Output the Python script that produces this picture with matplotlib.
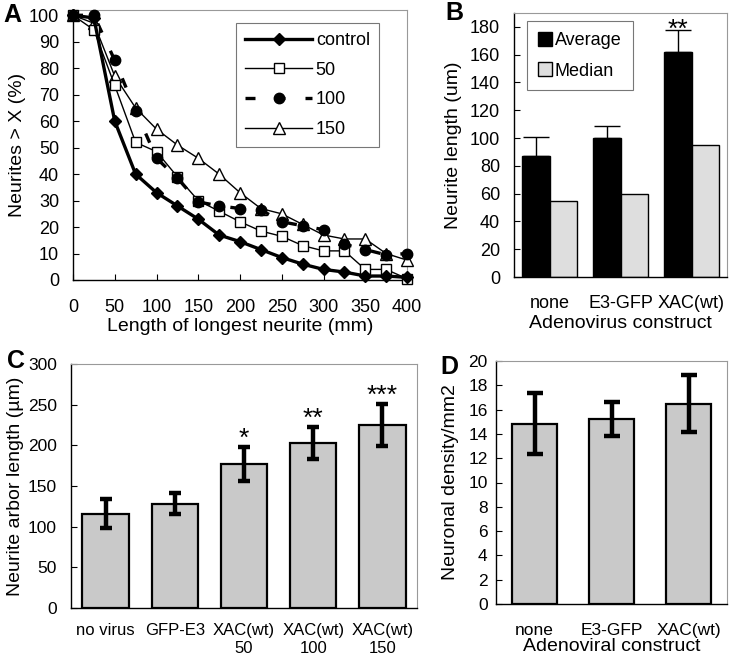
import matplotlib
matplotlib.use("Agg")
import matplotlib.pyplot as plt
from matplotlib.lines import Line2D
from matplotlib.patches import Patch
import numpy as np

plt.rcParams['font.family'] = ['Liberation Sans', 'DejaVu Sans']

# ---------- Panel A data ----------
lengths = [0, 25, 50, 75, 100, 125, 150, 175, 200, 225, 250, 275, 300, 325, 350, 375, 400]
control = [100, 99, 60, 40, 33, 28, 23, 17, 14.5, 11.5, 8.5, 6, 4, 3, 1.5, 1.5, 1]
xac50 = [100, 94.5, 73.5, 52, 48.5, 39, 30, 26, 22, 18.5, 16.5, 13, 11, 11, 4, 4, 0.5]
xac100 = [100, 100, 83, 64, 46, 38.5, 29.5, 28, 27, 26.5, 22, 20.5, 19, 13.5, 11.5, 9.5, 10]
xac150 = [100, 97, 77, 65, 57, 51, 46, 40, 33, 27, 25, 21, 17, 15.5, 15.5, 10, 7.5]
a_xticks = [0, 50, 100, 150, 200, 250, 300, 350, 400]
a_yticks = [0, 10, 20, 30, 40, 50, 60, 70, 80, 90, 100]

# ---------- Panel B data ----------
b_cats = ["none", "E3-GFP", "XAC(wt)"]
b_avg = [87, 100, 162]
b_avg_err = [14, 9, 16]
b_median = [55, 60, 95]
b_yticks = [0, 20, 40, 60, 80, 100, 120, 140, 160, 180]

# ---------- Panel C data ----------
c_cats = ["no virus", "GFP-E3", "XAC(wt)\n50", "XAC(wt)\n100", "XAC(wt)\n150"]
c_vals = [116, 128, 177, 203, 225]
c_err = [18, 13, 20.5, 19.5, 25.5]
c_stars = ["", "", "*", "**", "***"]
c_yticks = [0, 50, 100, 150, 200, 250, 300]

# ---------- Panel D data ----------
d_cats = ["none", "E3-GFP", "XAC(wt)"]
d_vals = [14.85, 15.2, 16.5]
d_err = [2.5, 1.4, 2.35]
d_yticks = [0, 2, 4, 6, 8, 10, 12, 14, 16, 18, 20]

W, H = 732, 657
fig = plt.figure(figsize=(W / 100, H / 100), dpi=100)


def ax_px(l, t, r, b):
    return fig.add_axes([l / W, 1 - b / H, (r - l) / W, (b - t) / H])


def style(ax, xticks=True):
    for s in ['top', 'right']:
        ax.spines[s].set_color('#999999')
        ax.spines[s].set_linewidth(0.8)
    for s in ['left', 'bottom']:
        ax.spines[s].set_color('black')
        ax.spines[s].set_linewidth(1.0)
    ax.tick_params(direction='in', length=4, width=0.8, color='black')
    if not xticks:
        ax.tick_params(axis='x', length=0)


def labels(ax, xl, xl_y, yl, yl_x, xfs=14, yfs=14):
    if xl:
        ax.set_xlabel(xl, fontsize=xfs, va='center')
        ax.xaxis.set_label_coords(0.5, xl_y)
    if yl:
        ax.set_ylabel(yl, fontsize=yfs, va='center')
        ax.yaxis.set_label_coords(yl_x, 0.5)


bar_grey = '#c9c9c9'

# ---------- A ----------
axA = ax_px(73, 10, 407, 280)
axA.plot(lengths, xac100, color='black', lw=2.4, ls=(0, (3, 6)), zorder=2)
axA.plot(lengths, xac150, color='black', lw=1.0, marker='^', ms=8.5,
         mfc='white', mec='black', mew=1.0, clip_on=False, zorder=3)
axA.plot(lengths, xac50, color='black', lw=1.0, marker='s', ms=7.5,
         mfc='white', mec='black', mew=1.0, clip_on=False, zorder=4)
axA.plot(lengths, xac100, ls='none', marker='o', ms=7.5,
         mfc='black', mec='black', clip_on=False, zorder=5)
axA.plot(lengths, control, color='black', lw=2.4, marker='D', ms=6.5,
         mfc='black', mec='black', clip_on=False, zorder=6)
axA.set_xlim(0, 400)
axA.set_ylim(0, 102)
axA.set_xticks(a_xticks)
axA.set_yticks(a_yticks)
axA.tick_params(labelsize=13)
axA.tick_params(axis='y', pad=10)
axA.tick_params(axis='x', pad=14)
style(axA)
labels(axA, "Length of longest neurite (mm)", -0.172, "Neurites > X (%)", -0.165)
hA = [Line2D([], [], color='black', lw=2.4, marker='D', ms=6.5),
      Line2D([], [], color='black', lw=1.0, marker='s', ms=7.5, mfc='white'),
      Line2D([], [], color='black', lw=2.4, ls=(0, (3, 6)), marker='o', ms=7.5),
      Line2D([], [], color='black', lw=1.0, marker='^', ms=8.5, mfc='white')]
legA = axA.legend(hA, ["control", "50", "100", "150"], loc='upper right',
                  bbox_to_anchor=(0.916, 0.952), fontsize=13, frameon=True,
                  fancybox=False, edgecolor='#555555', handlelength=3.7,
                  handletextpad=0.2, labelspacing=0.7, borderpad=0.5,
                  borderaxespad=0)
legA.get_frame().set_linewidth(0.8)
fig.text(3 / W, 1 - 15 / H, "A", fontsize=18, fontweight='bold', va='center')

# ---------- B ----------
axB = ax_px(514, 13, 727, 277)
xb = np.arange(len(b_cats))
bw = 0.39
axB.bar(xb - bw / 2, b_avg, bw, color='black', edgecolor='black', lw=1.0)
axB.errorbar(xb - bw / 2, b_avg, yerr=[np.zeros(3), b_avg_err], fmt='none',
             ecolor='black', elinewidth=1.0, capsize=9.5, capthick=1.0)
axB.bar(xb + bw / 2, b_median, bw, color='#dedede', edgecolor='black', lw=1.0)
axB.set_xlim(-0.5, 2.5)
axB.set_ylim(0, 190)
axB.set_yticks(b_yticks)
axB.set_xticks(xb)
axB.set_xticklabels(b_cats, fontsize=13)
axB.tick_params(axis='y', labelsize=13, pad=10)
axB.tick_params(axis='x', pad=13)
style(axB, xticks=False)
labels(axB, "Adenovirus construct", -0.178, "Neurite length (um)", -0.286)
axB.annotate("**", (xb[2] - bw / 2, b_avg[2] + b_avg_err[2]), xytext=(0, -5),
             textcoords='offset points', ha='center', va='baseline', fontsize=19)
hB = [Patch(facecolor='black', edgecolor='black'),
      Patch(facecolor='#dedede', edgecolor='black')]
legB = axB.legend(hB, ["Average", "Median"], loc='upper left',
                  bbox_to_anchor=(0.061, 0.970), fontsize=13, frameon=True,
                  fancybox=False, edgecolor='#555555', handlelength=0.8,
                  handleheight=0.8, handletextpad=0.15, labelspacing=0.75,
                  borderpad=0.6, borderaxespad=0)
legB.get_frame().set_linewidth(0.8)
fig.text(445 / W, 1 - 13 / H, "B", fontsize=18, fontweight='bold', va='center')

# ---------- C ----------
axC = ax_px(71, 364, 417, 608)
xc = np.arange(len(c_cats))
axC.bar(xc, c_vals, 0.67, color=bar_grey, edgecolor='black', lw=1.6)
axC.errorbar(xc, c_vals, yerr=c_err, fmt='none', ecolor='black',
             elinewidth=3.2, capsize=4.5, capthick=3.2)
for xi, v, e, s in zip(xc, c_vals, c_err, c_stars):
    if s:
        axC.annotate(s, (xi, v + e), xytext=(0, 1), textcoords='offset points',
                     ha='center', va='baseline', fontsize=19)
axC.set_xlim(-0.5, 4.5)
axC.set_ylim(0, 300)
axC.set_yticks(c_yticks)
axC.set_xticks(xc)
axC.set_xticklabels(c_cats, fontsize=12, linespacing=1.2)
axC.tick_params(axis='y', labelsize=12.5, pad=10)
axC.tick_params(axis='x', pad=11)
style(axC, xticks=False)
labels(axC, None, 0, "Neurite arbor length (\u00b5m)", -0.159)
fig.text(7 / W, 1 - 361 / H, "C", fontsize=18, fontweight='bold', va='center')

# ---------- D ----------
axD = ax_px(496, 361, 727, 604)
xd = np.arange(len(d_cats))
axD.bar(xd, d_vals, 0.59, color=bar_grey, edgecolor='black', lw=1.6)
axD.errorbar(xd, d_vals, yerr=d_err, fmt='none', ecolor='black',
             elinewidth=3.2, capsize=5.5, capthick=3.2)
axD.set_xlim(-0.5, 2.5)
axD.set_ylim(0, 20)
axD.set_yticks(d_yticks)
axD.set_xticks(xd)
axD.set_xticklabels(d_cats, fontsize=12.5)
axD.tick_params(axis='y', labelsize=12.5, pad=6)
axD.tick_params(axis='x', pad=14)
style(axD, xticks=False)
labels(axD, "Adenoviral construct", -0.173, "Neuronal density/mm2", -0.199)
fig.text(440 / W, 1 - 367 / H, "D", fontsize=18, fontweight='bold', va='center')

fig.savefig("out.png", dpi=100, facecolor='white')
